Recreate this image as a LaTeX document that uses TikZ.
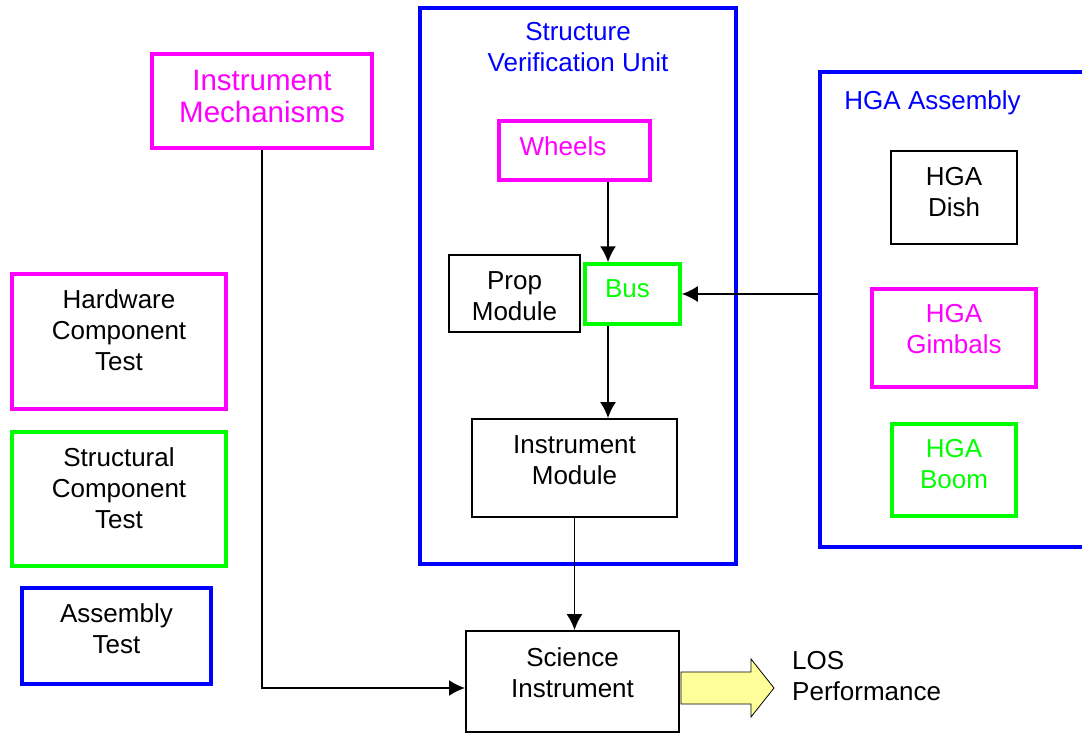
\documentclass[tikz,border=0pt]{standalone}
\usepackage{fontspec}
\setmainfont{Liberation Sans}
\usetikzlibrary{arrows.meta}
\definecolor{losyellow}{RGB}{255,255,153}
\definecolor{hwpink}{RGB}{255,0,255}
\definecolor{stgreen}{RGB}{0,255,0}
\definecolor{asblue}{RGB}{0,0,255}

\begin{document}
\begin{tikzpicture}[x=1pt, y=-1pt,
    font=\fontsize{26pt}{31pt}\selectfont,
    box/.style={draw=#1, rectangle, inner sep=0pt, line width=3.5pt},
    blk/.style={draw=black, rectangle, inner sep=0pt, line width=1.8pt},
    txt/.style={anchor=north, align=center, inner sep=0pt, yshift=-17pt, text=#1},
    txt/.default=black,
    arr/.style={line width=1.8pt, -{Latex[length=16pt, width=16pt]}}]
    \useasboundingbox (0,0) rectangle (1082,736);
    % test levels on the left
    \begin{scope}
        \node[box=hwpink, minimum width=214pt, minimum height=135pt, label={[txt]north:Hardware\\Component\\Test}] (hwtest) at (119,341.5) {};
        \node[box=stgreen, minimum width=214pt, minimum height=134pt, label={[txt]north:Structural\\Component\\Test}] (sttest) at (119,499) {};
        \node[box=asblue, minimum width=189pt, minimum height=96pt, label={[txt]north:Assembly\\Test}] (astest) at (116.5,636) {};
        \node[box=hwpink, minimum width=220pt, minimum height=94pt, label={[txt=hwpink, yshift=-1pt, font=\fontsize{29.5pt}{32pt}\selectfont]north:Instrument\\Mechanisms}] (mech) at (262,101) {};
    \end{scope}
    % structure verification unit
    \begin{scope}
        \node[box=asblue, minimum width=316pt, minimum height=556pt, label={[txt=asblue, yshift=1pt]north:Structure\\Verification Unit}] (svu) at (578,286) {};
        \node[box=hwpink, minimum width=151pt, minimum height=59pt, label={[txt=hwpink, xshift=-11.5pt]north:Wheels}] (wheels) at (574.5,150.5) {};
        \node[blk, minimum width=131pt, minimum height=77pt, label={[txt]north:Prop\\Module}] (prop) at (514.5,293.5) {};
        \node[box=stgreen, minimum width=95pt, minimum height=60pt, label={[txt=stgreen, xshift=-5pt]north:Bus}] (bus) at (632.5,294) {};
        \node[blk, minimum width=205pt, minimum height=98pt, label={[txt]north:Instrument\\Module}] (imod) at (574.5,468) {};
    \end{scope}
    % hga assembly
    \begin{scope}
        \node[box=asblue, minimum width=264pt, minimum height=475pt, label={[txt=asblue, anchor=north west, xshift=26pt, yshift=-3pt]north west:HGA Assembly}] (hga) at (952,309.5) {};
        \node[blk, minimum width=126pt, minimum height=93pt, label={[txt]north:HGA\\Dish}] (dish) at (954,197.5) {};
        \node[box=hwpink, minimum width=164pt, minimum height=98pt, label={[txt=hwpink]north:HGA\\Gimbals}] (gimbals) at (954,338) {};
        \node[box=stgreen, minimum width=124pt, minimum height=92pt, label={[txt=stgreen]north:HGA\\Boom}] (boom) at (954,470) {};
    \end{scope}
    % science instrument and output
    \node[blk, minimum width=213pt, minimum height=101pt, label={[txt]north:Science\\Instrument}] (sci) at (572.5,681.5) {};
    \node[anchor=north west, align=left, inner sep=0pt] (los) at (792,651) {LOS\\Performance};
    \draw[line width=0.8pt, fill=losyellow] (681,672) -- (751,672) -- (751,659) -- (774,688)
        -- (751,717) -- (751,704) -- (681,704) -- cycle;
    % connectors
    \coordinate (axis) at (608,0);
    \coordinate (sciin) at (465,688);
    \draw[arr] (wheels.south -| axis) -- (bus.north -| axis);
    \draw[arr] (bus.south -| axis) -- (imod.north -| axis);
    \draw[arr] (hga.west |- bus.east) -- (bus.east);
    \draw[arr] (imod.south) -- (imod.south |- sci.north);
    \draw[arr] (mech.south) |- (sciin);
\end{tikzpicture}
\end{document}
